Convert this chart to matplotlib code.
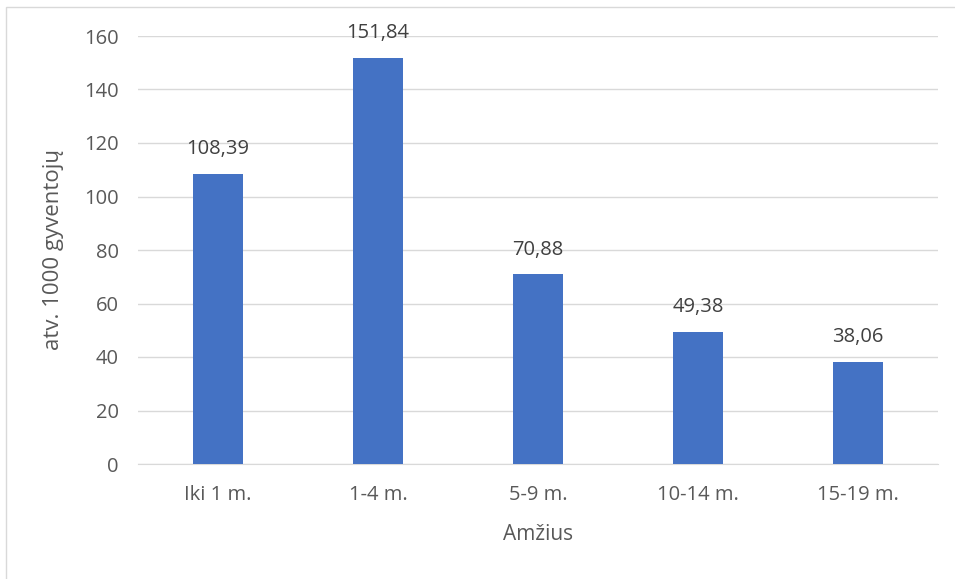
import matplotlib.pyplot as plt
from matplotlib.patches import Rectangle

categories = ["Iki 1 m.", "1-4 m.", "5-9 m.", "10-14 m.", "15-19 m."]
values = [108.39, 151.84, 70.88, 49.38, 38.06]
labels = ["108,39", "151,84", "70,88", "49,38", "38,06"]

plt.rcParams['font.family'] = ['Open Sans', 'DejaVu Sans']

W, H = 955, 579
fig = plt.figure(figsize=(W / 100, H / 100), dpi=100)
ax = fig.add_axes([138 / W, 1 - 464 / H, 800 / W, 428 / H])

text_col = '#595959'
bar_col = '#4472C4'

x = range(len(categories))
ax.bar(x, values, width=0.31, color=bar_col, zorder=3)
for xi, v, lab in zip(x, values, labels):
    ax.text(xi, v + 5.5, lab, ha='center', va='bottom', fontsize=14.5, color='#404040')

ax.set_xlim(-0.5, len(categories) - 0.5)
ax.set_ylim(0, 160)
ax.set_yticks(range(0, 161, 20))
ax.set_xticks(list(x))
ax.set_xticklabels(categories)
ax.yaxis.grid(True, color='#D9D9D9', linewidth=1, zorder=0)
for s in ['top', 'right', 'left']:
    ax.spines[s].set_visible(False)
ax.spines['bottom'].set_color('#D9D9D9')
ax.tick_params(axis='both', length=0, labelsize=14.5, colors=text_col)
ax.tick_params(axis='x', pad=15)
ax.tick_params(axis='y', pad=14)
ax.set_xlabel("Amžius", fontsize=15, color=text_col, labelpad=14)
ax.set_ylabel("atv. 1000 gyventojų", fontsize=16, color=text_col, labelpad=14)

# outer chart frame (only left/top visible in the reference crop)
fig.add_artist(Rectangle((6 / W, -0.01), 1.02, 1 - 7 / H + 0.01, transform=fig.transFigure,
                         fill=False, edgecolor='#D9D9D9', linewidth=1))

fig.savefig("out.png", dpi=100)
